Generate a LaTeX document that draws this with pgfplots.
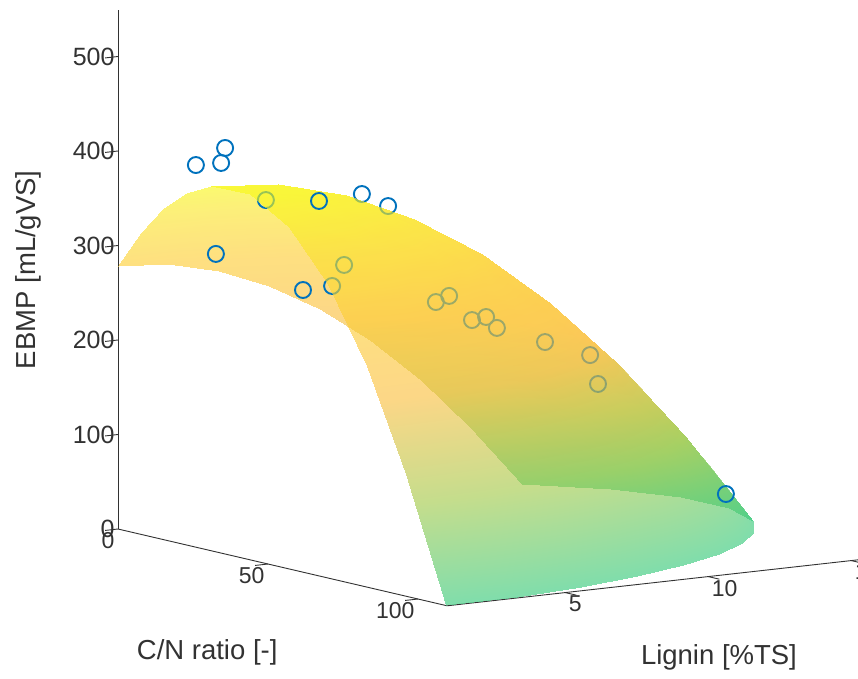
\documentclass[border=0pt]{standalone}
\usepackage{fontspec}
\setmainfont{Liberation Sans}
\usepackage{pgfplots}
\pgfplotsset{compat=1.18}
\definecolor{ax}{RGB}{50,50,50}
\definecolor{ptc}{RGB}{0,114,189}
\begin{document}
\begin{tikzpicture}[x=1pt,y=1pt]
\path[use as bounding box] (0,0) rectangle (858,678);
\begin{axis}[
  at={(118pt,149pt)},anchor=origin,
  x={(28.6pt,3.2pt)},y={(3pt,-0.7pt)},z={(0pt,0.945pt)},
  xmin=0.87,xmax=18,ymin=0,ymax=109.7,zmin=0,zmax=549,
  clip=false,clip marker paths=true,
  axis x line*=bottom,axis y line*=left,axis z line*=left,
  axis line style={ax,line width=0.9pt,-},
  major tick length=0pt,
  tick style={draw=none},
  xtick={5,10,15},ytick={0,50,100},ztick={0,100,200,300,400,500},
  minor tick num=0,
  ticklabel style={font=\fontsize{23}{25}\selectfont,text=ax},
  xticklabel style={anchor=north west},
  yticklabel style={anchor=north east},
  zticklabel style={anchor=east,font=\fontsize{25}{27}\selectfont},
  /pgf/number format/assume math mode=true,
  xlabel={Lignin [\%TS]},ylabel={C/N ratio [-]},zlabel={EBMP [mL/gVS]},
  label style={font=\fontsize{27.5}{29}\selectfont,text=ax},
  xlabel style={at={(axis cs:2.11,188.5,0)},anchor=center},
  ylabel style={at={(axis cs:-9.48,128.4,0)},anchor=center},
  zlabel style={at={(axis cs:-2.277,0,285)},anchor=center},
  point meta min=0,point meta max=390,
  colormap={surfmap}{rgb255(0pt)=(50,200,120); rgb255(100pt)=(160,200,70); rgb255(200pt)=(250,190,60); rgb255(280pt)=(253,205,50); rgb255(340pt)=(250,228,40); rgb255(390pt)=(248,250,20)},
]
% tick marks, drawn along the data directions
\addplot3[ax,line width=0.9pt,forget plot] coordinates {(0.42,0,0)(0.87,0,0)};
\addplot3[ax,line width=0.9pt,forget plot] coordinates {(0.42,0,100)(0.87,0,100)};
\addplot3[ax,line width=0.9pt,forget plot] coordinates {(0.42,0,200)(0.87,0,200)};
\addplot3[ax,line width=0.9pt,forget plot] coordinates {(0.42,0,300)(0.87,0,300)};
\addplot3[ax,line width=0.9pt,forget plot] coordinates {(0.42,0,400)(0.87,0,400)};
\addplot3[ax,line width=0.9pt,forget plot] coordinates {(0.42,0,500)(0.87,0,500)};
\addplot3[ax,line width=0.9pt,forget plot] coordinates {(0.42,50,0)(0.87,50,0)};
\addplot3[ax,line width=0.9pt,forget plot] coordinates {(0.42,100,0)(0.87,100,0)};
\addplot3[ax,line width=0.9pt,forget plot] coordinates {(5,109.7,0)(5,113.4,0)};
\addplot3[ax,line width=0.9pt,forget plot] coordinates {(10,109.7,0)(10,113.4,0)};
\addplot3[ax,line width=0.9pt,forget plot] coordinates {(15,109.7,0)(15,113.4,0)};
% back part of the surface
\addplot3[surf,shader=interp,opacity=0.62,mesh/rows=9,mesh/cols=5,point meta=z] table[row sep=\\] {
x y z\\
0.87 0 278.8\\ 0.87 7.72 319.4\\ 0.87 15.44 350.8\\ 0.87 23.16 373.0\\ 0.87 30.88 386.1\\
2.63 0 274.4\\ 2.84 8.54 317.7\\ 2.94 17.23 350.8\\ 2.94 25.96 372.8\\ 2.84 34.65 383.7\\
4.40 0 261.4\\ 4.80 9.36 305.2\\ 5.01 19.01 338.2\\ 5.02 28.76 359.3\\ 4.82 38.42 368.2\\
6.16 0 239.6\\ 6.77 10.18 281.7\\ 7.09 20.80 313.1\\ 7.09 31.56 332.6\\ 6.79 42.19 339.5\\
7.93 0 209.1\\ 8.74 11.00 247.2\\ 9.16 22.58 275.5\\ 9.17 34.36 292.6\\ 8.77 45.96 297.8\\
9.69 0 169.9\\ 10.71 11.82 201.8\\ 11.23 24.37 225.4\\ 11.24 37.17 239.3\\ 10.74 49.74 243.0\\
11.45 0 121.9\\ 12.67 12.64 145.5\\ 13.30 26.15 162.8\\ 13.31 39.97 172.8\\ 12.71 53.51 175.1\\
13.22 0 65.3\\ 14.64 13.46 78.2\\ 15.37 27.94 87.7\\ 15.39 42.77 93.1\\ 14.69 57.28 94.1\\
14.98 0 0\\ 16.61 14.28 0\\ 17.45 29.72 0\\ 17.46 45.57 0\\ 16.66 61.05 0\\
};
% points behind the front of the surface
\addplot3[only marks,mark=o,mark size=8pt,ptc,mark options={line width=1.9pt}] table[row sep=\\] {
x y z\\
6.87 24.1 352\\ 7.87 23.3 335.3\\ 3.87 20.7 353.3\\ 5.87 23.7 257.8\\ 5.87 27.7 283\\
8.87 29.7 235.1\\ 8.87 34.1 244.8\\ 9.87 32.2 214.5\\ 9.87 36.9 221.2\\ 9.87 40.5 212.3\\
10.87 47 198.8\\ 11.87 52.5 185.7\\ 12.87 45.6 146.6\\
};
% front part of the surface
\addplot3[surf,shader=interp,opacity=0.62,mesh/rows=9,mesh/cols=7,point meta=z] table[row sep=\\] {
x y z\\
0.87 30.88 386.1\\ 0.87 43.93 387.3\\ 0.87 56.98 362.3\\ 0.87 70.03 311.0\\ 0.87 83.07 233.6\\ 0.87 96.12 129.9\\ 0.87 109.17 0\\
2.84 34.65 383.7\\ 2.94 46.93 377.8\\ 3.05 59.21 348.7\\ 3.15 71.49 296.4\\ 3.25 83.76 220.9\\ 3.35 96.04 122.1\\ 3.45 108.32 0\\
4.82 38.42 368.2\\ 5.01 49.65 355.6\\ 5.20 60.87 323.5\\ 5.39 72.10 271.9\\ 5.58 83.32 200.8\\ 5.77 94.54 110.2\\ 5.97 105.77 0\\
6.79 42.19 339.5\\ 7.05 52.10 321.2\\ 7.31 62.00 287.5\\ 7.58 71.91 238.5\\ 7.84 81.81 174.3\\ 8.10 91.70 94.8\\ 8.36 101.6 0\\
8.77 45.96 297.8\\ 9.07 54.29 275.5\\ 9.37 62.62 242.3\\ 9.67 70.94 198.1\\ 9.97 79.26 142.9\\ 10.27 87.58 76.9\\ 10.57 95.90 0\\
10.74 49.74 243.0\\ 11.04 56.26 219.5\\ 11.34 62.77 189.2\\ 11.65 69.29 152.1\\ 11.95 75.80 108.2\\ 12.25 82.32 57.4\\ 12.55 88.83 0\\
12.71 53.51 175.1\\ 12.97 58.01 154.2\\ 13.23 62.51 129.9\\ 13.48 67.02 102.4\\ 13.74 71.51 71.6\\ 14.00 76.02 37.4\\ 14.25 80.52 0\\
14.69 57.28 94.1\\ 14.84 59.59 80.7\\ 15.00 61.91 66.3\\ 15.16 64.23 51.1\\ 15.32 66.54 35.0\\ 15.48 68.86 17.9\\ 15.64 71.17 0\\
16.66 61.05 0\\ 16.66 61.05 0\\ 16.66 61.05 0\\ 16.66 61.05 0\\ 16.66 61.05 0\\ 16.66 61.05 0\\ 16.66 61.05 0\\
};
% points in front of the surface
\addplot3[only marks,mark=o,mark size=8pt,ptc,mark options={line width=1.9pt}] table[row sep=\\] {
x y z\\
2.87 6.9 383.5\\ 2.87 15.3 391.9\\ 3.87 7.1 398.3\\ 1.87 23.1 304.8\\ 2.87 42.6 277.7\\ 3.87 38.4 365.4\\ 13.87 78.7 51.3\\
};
\end{axis}
\end{tikzpicture}
\end{document}
